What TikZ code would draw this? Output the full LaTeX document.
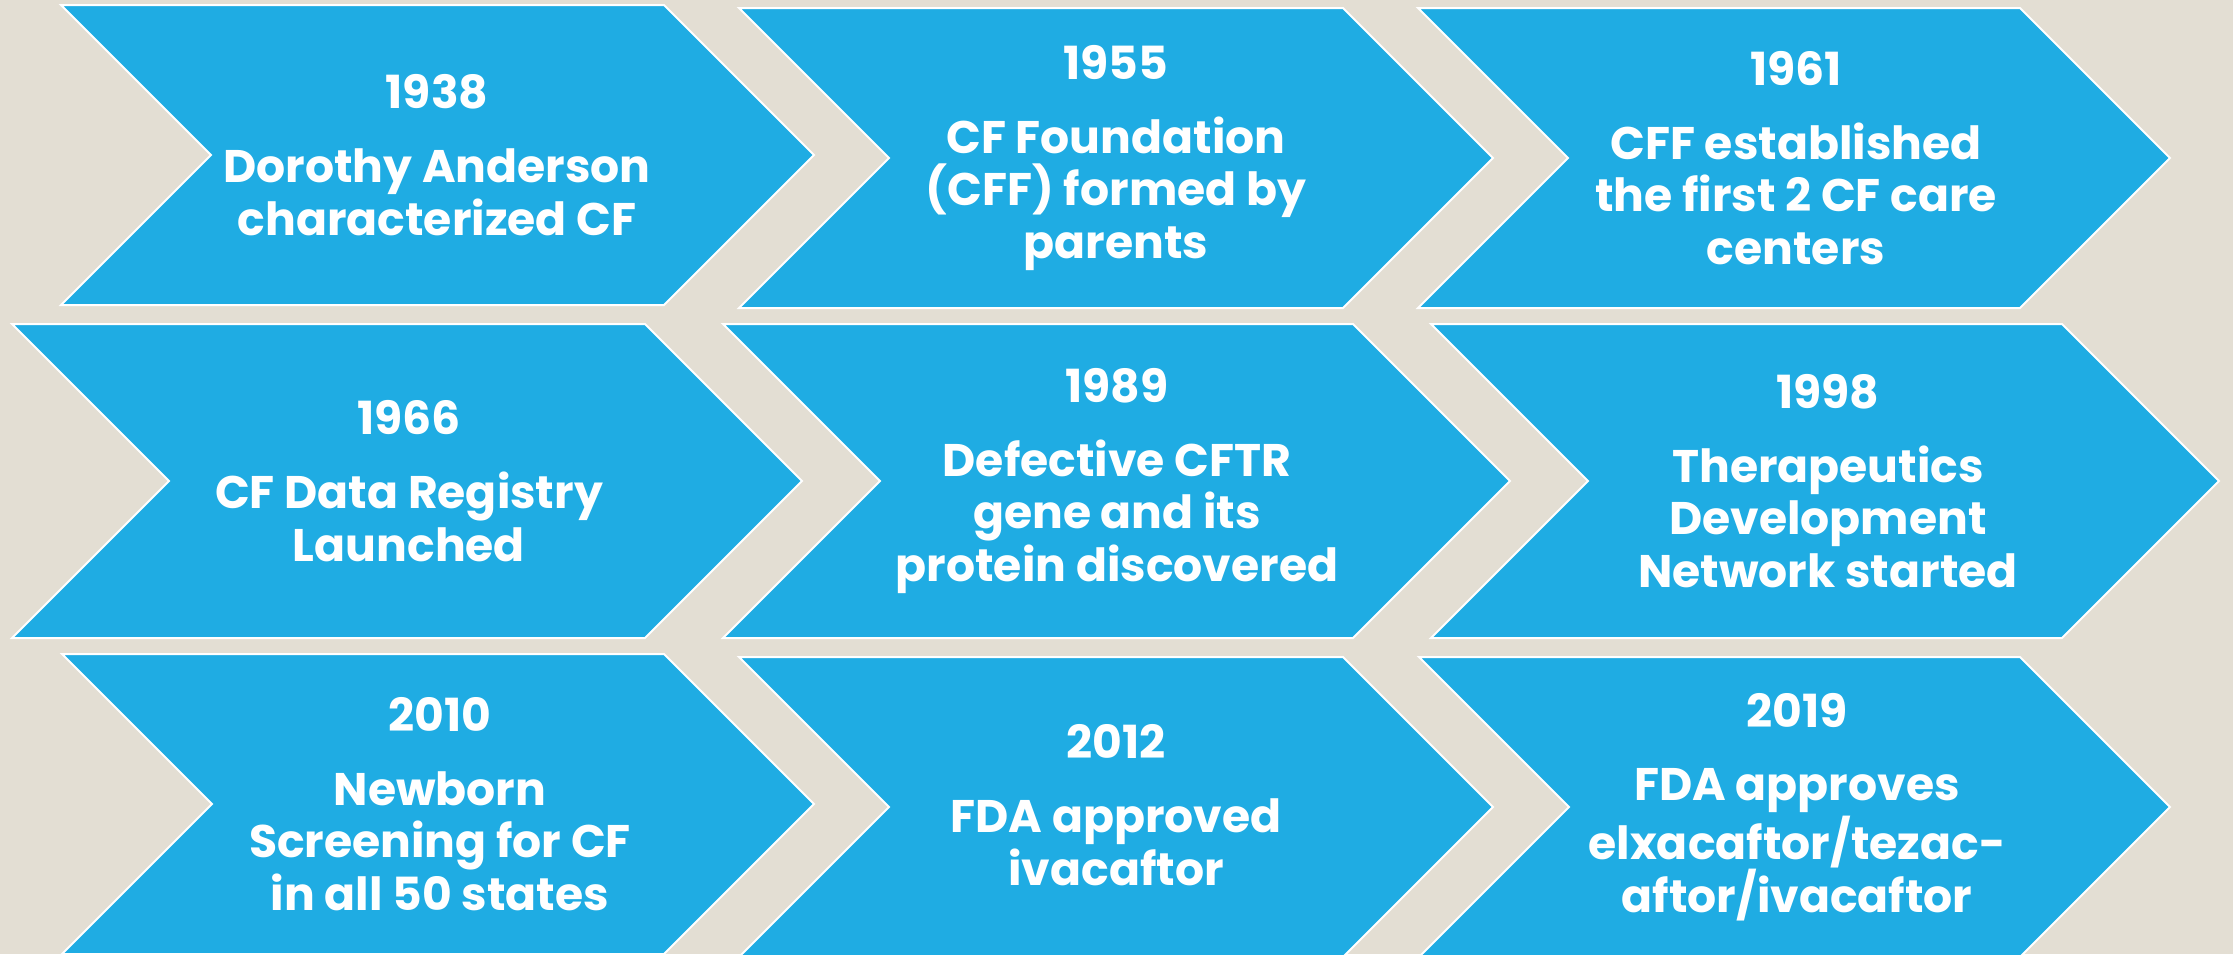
\documentclass[tikz,border=0pt]{standalone}
\usepackage{fontspec}
\setmainfont{Poppins}
\definecolor{cfblue}{HTML}{1FACE3}
\definecolor{sand}{HTML}{E3DED3}

\begin{document}
\begin{tikzpicture}[x=0.1mm,y=-0.1mm]
\tikzstyle{chev}=[fill=cfblue,draw=white,line width=0.2mm,line join=miter]
\tikzstyle{every node}=[text=white,align=center,font=\bfseries\fontsize{13}{15}\selectfont]
\fill[sand] (0,0) rectangle (2233,954);
\useasboundingbox (0,0) rectangle (2233,954);
% row 1
\draw[chev] (61,5) -- ++(603,0) -- ++(150,150) -- ++(-150,150) -- ++(-603,0) -- ++(150,-150) -- cycle;
\draw[chev] (739,8) -- ++(604,0) -- ++(150,150) -- ++(-150,150) -- ++(-604,0) -- ++(150,-150) -- cycle;
\draw[chev] (1418,8) -- ++(602,0) -- ++(150,150) -- ++(-150,150) -- ++(-602,0) -- ++(150,-150) -- cycle;
\node (e1938) at (437,155) {1938\\[6pt]Dorothy Anderson\\characterized CF};
\node (e1955) at (1116,158) {1955\\[6pt]CF Foundation\\(CFF) formed by\\parents};
\node (e1961) at (1796,158) {1961\\[6pt]CFF established\\the first 2 CF care\\centers};
% row 2
\draw[chev] (12,324) -- ++(633,0) -- ++(157,157) -- ++(-157,157) -- ++(-633,0) -- ++(157,-157) -- cycle;
\draw[chev] (723,324) -- ++(630,0) -- ++(157,157) -- ++(-157,157) -- ++(-630,0) -- ++(157,-157) -- cycle;
\draw[chev] (1431,324) -- ++(631,0) -- ++(157,157) -- ++(-157,157) -- ++(-631,0) -- ++(157,-157) -- cycle;
\node (e1966) at (409,481) {1966\\[6pt]CF Data Registry\\Launched};
\node (e1989) at (1117,481) {1989\\[6pt]Defective CFTR\\gene and its\\protein discovered};
\node (e1998) at (1828,481) {1998\\[6pt]Therapeutics\\Development\\Network started};
% row 3
\draw[chev] (62,654) -- ++(602,0) -- ++(150,150) -- ++(-150,150) -- ++(-602,0) -- ++(150,-150) -- cycle;
\draw[chev] (739,657) -- ++(604,0) -- ++(150,150) -- ++(-150,150) -- ++(-604,0) -- ++(150,-150) -- cycle;
\draw[chev] (1419,657) -- ++(601,0) -- ++(150,150) -- ++(-150,150) -- ++(-601,0) -- ++(150,-150) -- cycle;
\node (e2010) at (440,804) {2010\\[6pt]Newborn\\Screening for CF\\in all 50 states};
\node (e2012) at (1116,805) {2012\\[6pt]FDA approved\\ivacaftor};
\node (e2019) at (1797,807) {2019\\[6pt]FDA approves\\elxacaftor/tezac-\\aftor/ivacaftor};
\end{tikzpicture}
\end{document}
